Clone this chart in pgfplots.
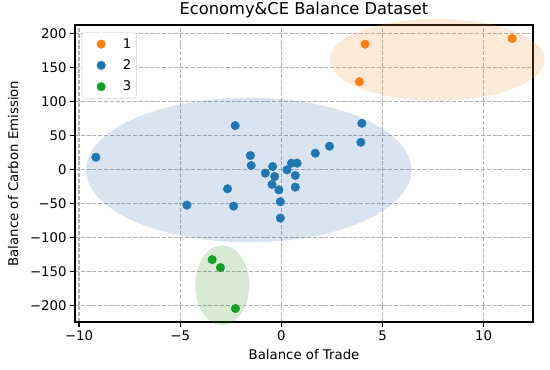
\documentclass[border=0pt]{standalone}
\usepackage{fontspec}
\setmainfont{DejaVu Sans}
\usepackage{pgfplots}
\pgfplotsset{compat=1.18}
\definecolor{mplorange}{HTML}{FF7F0E}
\definecolor{mplblue}{HTML}{1F77B4}
\definecolor{mplgreen}{RGB}{20,160,40}
\definecolor{ellorange}{RGB}{235,150,60}
\definecolor{ellblue}{RGB}{70,120,180}
\definecolor{ellgreen}{RGB}{60,150,40}
\definecolor{gridgray}{HTML}{B0B0B0}
\newcommand{\lbl}{\fontsize{13.3bp}{15bp}\selectfont}
\begin{document}
\begin{tikzpicture}
\begin{axis}[
  name=ax,
  scale only axis,
  width=458bp, height=297bp,
  xmin=-10.2, xmax=12.44,
  ymin=-224.8, ymax=213,
  clip=false,
  axis line style={line width=1.1bp},
  xtick={-10,-5,0,5,10},
  xticklabels={−10,−5,0,5,10},
  ytick={-200,-150,-100,-50,0,50,100,150,200},
  yticklabels={−200,−150,−100,−50,0,50,100,150,200},
  tick align=outside,
  tick pos=left,
  major tick length=4.9bp,
  tick style={line width=1.1bp, black},
  tick label style={font=\lbl},
  label style={font=\lbl},
  xlabel style={yshift=-2bp},
  ylabel style={yshift=5bp},
  title style={font=\fontsize{16.3bp}{18bp}\selectfont, at={(0.5,1)}, anchor=base, yshift=4.5bp, inner sep=0pt},
  grid=major,
  major grid style={gridgray, line width=1.1bp, dash pattern=on 4bp off 1.8bp},
  title={Economy\&CE Balance Dataset},
  xlabel={Balance of Trade},
  ylabel={Balance of Carbon Emission},
  legend style={at={(0,1)}, anchor=north west, xshift=6.7bp, yshift=-7.3bp,
    draw=black!20, rounded corners=3bp, font=\lbl, row sep=6bp,
    inner xsep=3bp, inner ysep=4bp},
  legend image code/.code={\path[draw=none] (0bp,0bp) (36bp,0bp); \draw[#1] plot coordinates {(16.3bp,0bp)};},
  legend cell align=left,
]
\fill[ellorange, fill opacity=0.2] (axis cs:7.70,161.8) ellipse [x radius=5.32, y radius=60.3];
\fill[ellblue, fill opacity=0.2] (axis cs:-1.61,-0.7) ellipse [x radius=8.04, y radius=106.6];
\fill[ellgreen, fill opacity=0.2] (axis cs:-2.92,-170.6) ellipse [x radius=1.34, y radius=58.8];
\addplot[only marks, mark=*, mark size=4.3bp, color=mplorange]
  coordinates {(4.14,184.8) (3.86,129.4) (11.41,193.1)};
\addlegendentry{1}
\addplot[only marks, mark=*, mark size=4.3bp, color=mplblue]
  coordinates {
  (-9.17,18) (-4.67,-52.5) (-2.28,64.7) (-1.53,20.6) (-1.49,5.9)
  (-2.66,-28.4) (-2.36,-54) (-0.79,-5.4) (-0.43,4.4) (-0.33,-10.3)
  (-0.46,-22) (-0.12,-30) (-0.05,-47.5) (-0.05,-71.6) (0.28,-0.5)
  (0.5,9.3) (0.78,9.3) (0.69,-8.8) (0.69,-26) (1.68,24)
  (2.38,34.3) (3.98,68.1) (3.93,40.1)};
\addlegendentry{2}
\addplot[only marks, mark=*, mark size=4.3bp, color=mplgreen]
  coordinates {(-3.42,-132.8) (-3.01,-144.6) (-2.27,-204.9)};
\addlegendentry{3}
\end{axis}
\path ([xshift=-75bp,yshift=-48bp]ax.south west) rectangle ([xshift=17bp,yshift=25bp]ax.north east);
\end{tikzpicture}
\end{document}
